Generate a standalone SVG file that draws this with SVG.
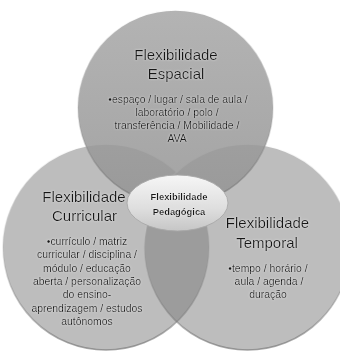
<svg xmlns="http://www.w3.org/2000/svg" width="340" height="352" viewBox="0 0 340 352">
<defs>
<linearGradient id="rim" x1="0" y1="0" x2="0" y2="1">
<stop offset="0" stop-color="#ffffff" stop-opacity="0.95"/>
<stop offset="0.3" stop-color="#ffffff" stop-opacity="0.35"/>
<stop offset="0.55" stop-color="#888888" stop-opacity="0.2"/>
<stop offset="1" stop-color="#6a6a6a" stop-opacity="0.6"/>
</linearGradient>
<linearGradient id="ellG" x1="0" y1="0" x2="0" y2="1">
<stop offset="0" stop-color="#f6f6f6"/>
<stop offset="0.6" stop-color="#dedede"/>
<stop offset="1" stop-color="#c6c6c6"/>
</linearGradient>
<linearGradient id="topG" x1="0" y1="0" x2="0" y2="1">
<stop offset="0" stop-color="#a6a6a6"/>
<stop offset="1" stop-color="#939393"/>
</linearGradient>
<filter id="glow" x="-10%" y="-30%" width="120%" height="160%">
<feGaussianBlur in="SourceAlpha" stdDeviation="1.2" result="b"/>
<feFlood flood-color="#ffffff" flood-opacity="0.55"/>
<feComposite in2="b" operator="in" result="g"/>
<feMerge><feMergeNode in="g"/><feMergeNode in="SourceGraphic"/></feMerge>
</filter>
</defs>
<style>
.side{fill:#7c7c7c;fill-opacity:0.5;stroke:url(#rim);stroke-width:1.6}
.top{fill:url(#topG);fill-opacity:0.85;stroke:url(#rim);stroke-width:1.6}
.t{font-family:"Liberation Sans",Arial,sans-serif;fill:#161616;text-anchor:middle;filter:url(#glow)}
.h{font-size:15px}
.b{font-size:10.4px}
.c{font-size:9.4px;font-weight:bold}
</style>
<rect width="340" height="352" fill="#ffffff"/>
<g id="curricular">
<circle class="side" cx="106" cy="247" r="103"/>
<text class="t h" x="84" y="201.5">Flexibilidade</text>
<text class="t h" x="84.5" y="221">Curricular</text>
<text class="t b" x="87" y="245">•currículo / matriz</text>
<text class="t b" x="87" y="258.3">curricular / disciplina /</text>
<text class="t b" x="87" y="271.6">módulo / educação</text>
<text class="t b" x="87" y="284.9">aberta / personalização</text>
<text class="t b" x="87" y="298.2">do ensino-</text>
<text class="t b" x="87" y="311.5">aprendizagem / estudos</text>
<text class="t b" x="87" y="324.8">autônomos</text>
</g>
<g id="temporal">
<circle class="side" cx="247.5" cy="247" r="103"/>
<text class="t h" x="267.5" y="228">Flexibilidade</text>
<text class="t h" x="267" y="248">Temporal</text>
<text class="t b" x="268" y="271.5">•tempo / horário /</text>
<text class="t b" x="269" y="284.8">aula / agenda /</text>
<text class="t b" x="268" y="298.1">duração</text>
</g>
<g id="espacial">
<circle class="top" cx="175.5" cy="107.5" r="97.5"/>
<text class="t h" x="176" y="59.5">Flexibilidade</text>
<text class="t h" x="176" y="79">Espacial</text>
<text class="t b" x="178" y="102.5">•espaço / lugar / sala de aula /</text>
<text class="t b" x="177" y="115.8">laboratório / polo /</text>
<text class="t b" x="177" y="129.1">transferência / Mobilidade /</text>
<text class="t b" x="177" y="142.4">AVA</text>
</g>
<g id="pedagogica">
<ellipse cx="177.5" cy="203" rx="50.5" ry="28" fill="url(#ellG)" stroke="#a8a8a8" stroke-width="0.9"/>
<text class="t c" x="179" y="199.5">Flexibilidade</text>
<text class="t c" x="179" y="214.5">Pedagógica</text>
</g>
</svg>
